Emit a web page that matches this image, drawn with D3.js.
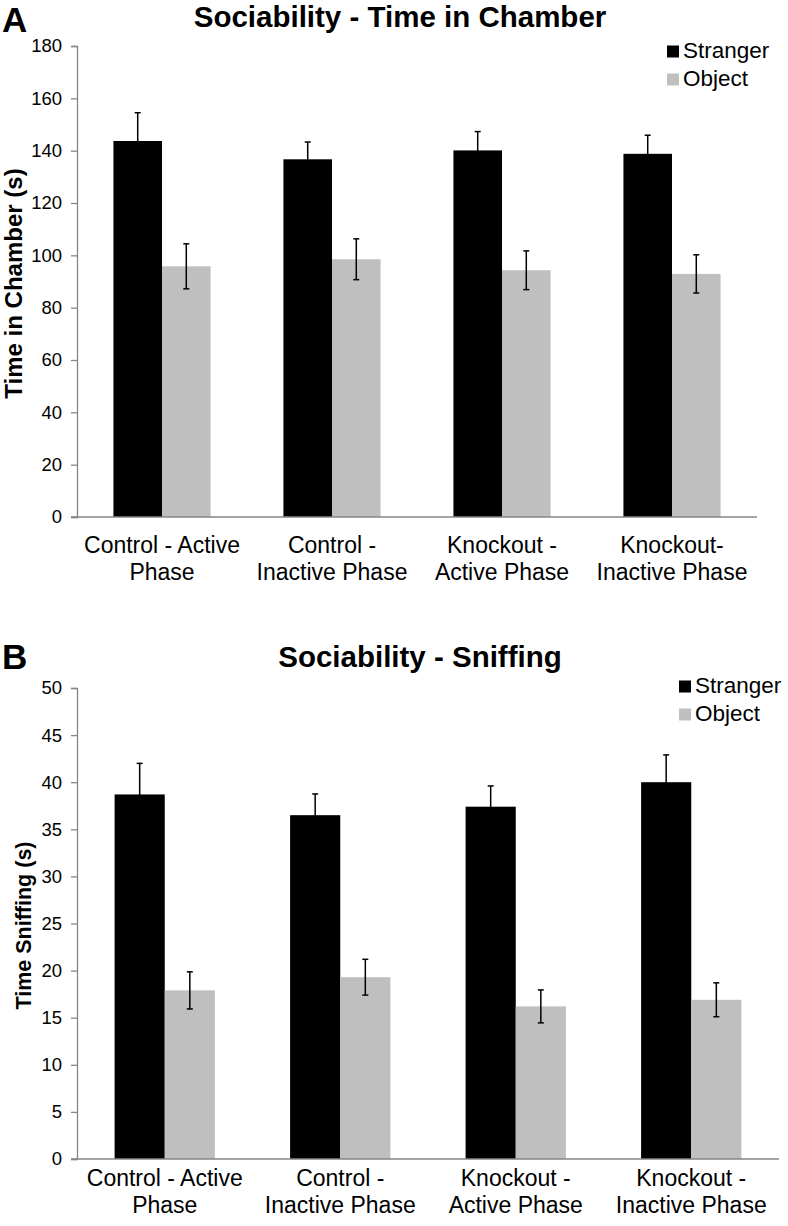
<!DOCTYPE html>
<html><head><meta charset="utf-8">
<script src="https://cdn.jsdelivr.net/npm/d3@7"></script>
<style>
html,body{margin:0;padding:0;background:#fff;}
text{font-family:"Liberation Sans",Arial,sans-serif;fill:#000;}
</style></head>
<body>
<svg id="chart" width="788" height="1226"></svg>
<script>
// ---------- data ----------
const series = ["Stranger", "Object"];
const seriesColors = ["#000000", "#bfbfbf"];

const categoriesA = [["Control - Active", "Phase"], ["Control -", "Inactive Phase"], ["Knockout -", "Active Phase"], ["Knockout-", "Inactive Phase"]];
const categoriesB = [["Control - Active", "Phase"], ["Control -", "Inactive Phase"], ["Knockout -", "Active Phase"], ["Knockout -", "Inactive Phase"]];

const strangerChamber    = [143.7, 136.7, 140.1, 138.8];
const strangerChamberErr = [10.8, 6.6, 7.2, 7.1];
const objectChamber      = [95.8, 98.5, 94.3, 92.9];
const objectChamberErr   = [8.6, 7.8, 7.4, 7.3];

const strangerSniff    = [38.7, 36.5, 37.4, 40.0];
const strangerSniffErr = [3.3, 2.25, 2.2, 2.9];
const objectSniff      = [17.9, 19.3, 16.2, 16.9];
const objectSniffErr   = [1.97, 1.9, 1.75, 1.8];

const ticksA = [0, 20, 40, 60, 80, 100, 120, 140, 160, 180];
const ticksB = [0, 5, 10, 15, 20, 25, 30, 35, 40, 45, 50];

// ---------- panels ----------
const panels = [
  {letter: "A", title: "Sociability - Time in Chamber", ytitle: "Time in Chamber (s)",
   cats: categoriesA, vals: [strangerChamber, objectChamber], errs: [strangerChamberErr, objectChamberErr],
   ticks: ticksA, ymax: 180,
   x0: 77, x1: 757, yTop: 46, yBot: 517,
   letterY: 32, titleX: 400, titleY: 27, ytitleX: 15, ytitleSize: 24,
   legX: 667, legY: 58, labY: 553},
  {letter: "B", title: "Sociability - Sniffing", ytitle: "Time Sniffing (s)",
   cats: categoriesB, vals: [strangerSniff, objectSniff], errs: [strangerSniffErr, objectSniffErr],
   ticks: ticksB, ymax: 50,
   x0: 77, x1: 779, yTop: 688, yBot: 1159,
   letterY: 669, titleX: 420, titleY: 667, ytitleX: 24, ytitleSize: 21.5,
   legX: 679, legY: 693, labY: 1186}
];

const svg = d3.select("#chart");
const axisColor = "#868686";

panels.forEach(p => {
  const g = svg.append("g");
  const catKeys = p.cats.map((c, i) => i);
  const x = d3.scaleBand().domain(catKeys).range([p.x0, p.x1]).paddingInner(0).paddingOuter(0);
  const xs = d3.scaleBand().domain(series).range([0, x.bandwidth()]).paddingInner(0).paddingOuter(0.75);
  const y = d3.scaleLinear().domain([0, p.ymax]).range([p.yBot, p.yTop]);

  // panel letter
  g.append("text").attr("x", 2).attr("y", p.letterY)
    .style("font-size", "35px").style("font-weight", "bold").text(p.letter);
  // title
  g.append("text").attr("x", p.titleX).attr("y", p.titleY).attr("text-anchor", "middle")
    .style("font-size", "29.5px").style("font-weight", "bold").text(p.title);

  // bars
  series.forEach((s, si) => {
    g.append("g").selectAll("rect").data(p.vals[si]).join("rect")
      .attr("x", (d, i) => x(i) + xs(s))
      .attr("width", xs.bandwidth())
      .attr("y", d => y(d))
      .attr("height", d => y(0) - y(d))
      .attr("fill", seriesColors[si]);
  });

  // error bars
  series.forEach((s, si) => {
    const eg = g.append("g");
    p.vals[si].forEach((v, i) => {
      const cx = x(i) + xs(s) + xs.bandwidth() / 2;
      const e = p.errs[si][i];
      const top = y(v + e), bot = y(v - e);
      eg.append("line").attr("x1", cx).attr("x2", cx).attr("y1", top).attr("y2", bot)
        .attr("stroke", "#000").attr("stroke-width", 1.5);
      [top, bot].forEach(yy => eg.append("line").attr("x1", cx - 3).attr("x2", cx + 3)
        .attr("y1", yy).attr("y2", yy).attr("stroke", "#000").attr("stroke-width", 1.5));
    });
  });

  // y axis
  const ya = g.append("g").attr("transform", `translate(${p.x0},0)`)
    .call(d3.axisLeft(y).tickValues(p.ticks).tickSize(6).tickPadding(9).tickFormat(d3.format("d")));
  ya.select(".domain").attr("stroke", axisColor).attr("stroke-width", 1.3);
  ya.selectAll(".tick line").attr("stroke", axisColor).attr("stroke-width", 1.3);
  ya.selectAll(".tick text").style("font-size", "18.5px").style("font-family", "Liberation Sans, Arial, sans-serif").attr("fill", "#000");

  // x axis line
  g.append("line").attr("x1", p.x0 - 6).attr("x2", p.x1).attr("y1", y(0)).attr("y2", y(0))
    .attr("stroke", axisColor).attr("stroke-width", 1.5);

  // category labels
  p.cats.forEach((lines, i) => {
    const t = g.append("text").attr("text-anchor", "middle").style("font-size", "23px");
    lines.forEach((ln, li) => {
      t.append("tspan").attr("x", x(i) + x.bandwidth() / 2).attr("y", p.labY + li * 27).text(ln);
    });
  });

  // y title
  g.append("text")
    .attr("transform", `translate(${p.ytitleX + 7},${(p.yTop + p.yBot) / 2 + 2}) rotate(-90)`)
    .attr("text-anchor", "middle")
    .style("font-size", p.ytitleSize + "px").style("font-weight", "bold")
    .text(p.ytitle);

  // legend
  series.forEach((s, si) => {
    g.append("rect").attr("x", p.legX).attr("y", p.legY + si * 28 - 12.5)
      .attr("width", 12).attr("height", 12).attr("fill", seriesColors[si]);
    g.append("text").attr("x", p.legX + 16).attr("y", p.legY + si * 28)
      .style("font-size", "22.5px").text(s);
  });
});
</script>
</body></html>
